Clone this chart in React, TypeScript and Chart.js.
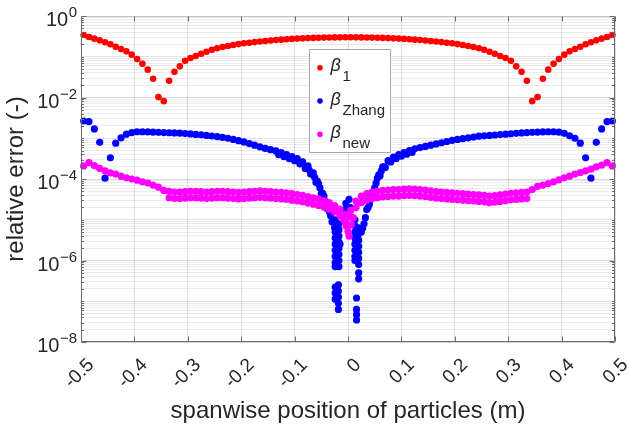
import React, { useEffect, useRef } from 'react';
import { Chart, registerables } from 'chart.js';

Chart.register(...registerables);

// ---------------- DATA ----------------
// particle spanwise positions (m)
const xPos = [
  -0.495, -0.485, -0.475, -0.465, -0.455, -0.445, -0.435, -0.425, -0.415, -0.405,
  -0.395, -0.385, -0.375, -0.365, -0.355, -0.345, -0.335, -0.325, -0.315, -0.305,
  -0.295, -0.285, -0.275, -0.265, -0.255, -0.245, -0.235, -0.225, -0.215, -0.205,
  -0.195, -0.185, -0.175, -0.165, -0.155, -0.145, -0.135, -0.125, -0.115, -0.105,
  -0.095, -0.085, -0.075, -0.065, -0.055, -0.045, -0.035, -0.025, -0.015, -0.005,
  0.005, 0.015, 0.025, 0.035, 0.045, 0.055, 0.065, 0.075, 0.085, 0.095,
  0.105, 0.115, 0.125, 0.135, 0.145, 0.155, 0.165, 0.175, 0.185, 0.195,
  0.205, 0.215, 0.225, 0.235, 0.245, 0.255, 0.265, 0.275, 0.285, 0.295,
  0.305, 0.315, 0.325, 0.335, 0.345, 0.355, 0.365, 0.375, 0.385, 0.395,
  0.405, 0.415, 0.425, 0.435, 0.445, 0.455, 0.465, 0.475, 0.485, 0.495,
];

// relative error, stored as log10 exponents
const beta1Exp = [
  -0.466, -0.515, -0.556, -0.597, -0.646, -0.695, -0.753, -0.81, -0.867, -0.949,
  -1.055, -1.17, -1.317, -1.54, -1.99, -2.09, -1.59, -1.37, -1.235, -1.1,
  -1.03, -0.98, -0.925, -0.876, -0.827, -0.79, -0.76, -0.735, -0.71, -0.69,
  -0.67, -0.655, -0.64, -0.625, -0.612, -0.6, -0.59, -0.58, -0.57, -0.562,
  -0.555, -0.548, -0.542, -0.537, -0.533, -0.53, -0.527, -0.525, -0.524, -0.523,
  -0.523, -0.524, -0.525, -0.527, -0.53, -0.533, -0.537, -0.542, -0.548, -0.555,
  -0.562, -0.57, -0.58, -0.59, -0.6, -0.612, -0.625, -0.64, -0.655, -0.67,
  -0.69, -0.71, -0.735, -0.76, -0.79, -0.827, -0.876, -0.925, -0.98, -1.03,
  -1.1, -1.235, -1.37, -1.59, -2.09, -1.99, -1.54, -1.317, -1.17, -1.055,
  -0.949, -0.867, -0.81, -0.753, -0.695, -0.646, -0.597, -0.556, -0.515, -0.466,
];

const betaZhangExp = [
  -2.577, -2.59, -2.77, -3.1, -3.98, -3.48, -3.12, -2.99, -2.9, -2.86,
  -2.84, -2.84, -2.845, -2.85, -2.855, -2.86, -2.865, -2.87, -2.875, -2.885,
  -2.895, -2.905, -2.915, -2.93, -2.945, -2.96, -2.98, -3.0, -3.03, -3.06,
  -3.09, -3.13, -3.17, -3.21, -3.25, -3.28, -3.31, -3.35, -3.4, -3.45,
  -3.5, -3.58, -3.68, -3.85, -4.12, -4.42, -4.8, -5.2, -5.6, -4.75,
  -4.7, -5.5, -5.3, -4.75, -4.35, -3.98, -3.7, -3.55, -3.46, -3.4,
  -3.35, -3.3, -3.26, -3.23, -3.2, -3.17, -3.14, -3.11, -3.08, -3.05,
  -3.03, -3.01, -2.99, -2.97, -2.95, -2.94, -2.93, -2.92, -2.91, -2.9,
  -2.89, -2.88, -2.87, -2.86, -2.855, -2.85, -2.845, -2.84, -2.84, -2.85,
  -2.88, -2.94, -3.0, -3.12, -3.48, -3.98, -3.1, -2.77, -2.59, -2.577,
];

// dense particles near the centre for beta_Zhang: [x, log10 error]
const betaZhangCenter = [
  [-0.13, -3.4], [-0.12, -3.45], [-0.11, -3.5], [-0.1, -3.55], [-0.09, -3.63],
  [-0.08, -3.74], [-0.07, -3.88], [-0.06, -4.08], [-0.05, -4.36], [-0.04, -4.72], [-0.03, -5.05],
  [-0.0725, -3.78], [-0.0625, -3.96], [-0.0575, -4.05], [-0.0525, -4.22], [-0.0475, -4.35],
  [-0.0425, -4.55], [-0.0375, -4.68], [-0.0325, -4.9], [-0.0275, -5.05],
  [0.03, -5.1], [0.04, -4.62], [0.05, -4.22], [0.06, -3.92], [0.07, -3.72],
  [0.08, -3.58], [0.09, -3.5], [0.1, -3.44], [0.11, -3.39], [0.12, -3.35],
  [0.0275, -5.2], [0.0325, -4.95], [0.0375, -4.7], [0.0425, -4.5], [0.0475, -4.3],
  [0.0525, -4.1], [0.0575, -3.9], [0.0625, -3.8], [0.0675, -3.7],
  [-0.024, -5.0], [-0.024, -5.15], [-0.024, -5.3], [-0.024, -5.45], [-0.024, -5.6],
  [-0.024, -5.75], [-0.024, -5.9], [-0.024, -6.05], [-0.024, -6.15],
  [-0.017, -5.1], [-0.017, -5.25], [-0.017, -5.4], [-0.017, -5.55], [-0.017, -5.7],
  [-0.017, -5.85], [-0.017, -6.0], [-0.017, -6.15],
  [-0.024, -6.65], [-0.024, -6.8], [-0.024, -6.95],
  [-0.018, -6.6], [-0.018, -6.75], [-0.018, -6.9], [-0.018, -7.05], [-0.018, -7.2],
  [0.013, -5.0], [0.013, -5.15], [0.013, -5.3], [0.013, -5.45], [0.013, -5.6],
  [0.013, -5.75], [0.013, -5.9], [0.013, -6.0],
  [0.02, -5.2], [0.02, -5.35], [0.02, -5.5], [0.02, -5.65], [0.02, -5.8],
  [0.02, -5.95], [0.02, -6.1], [0.02, -6.3], [0.02, -6.45],
  [0.016, -6.92], [0.016, -7.2], [0.016, -7.33], [0.016, -7.46],
  [0.002, -4.5], [-0.004, -4.6],
];

// beta_new: outer line + upper row of the central band
const betaNewExp = [
  -3.68, -3.6, -3.67, -3.74, -3.8, -3.85, -3.88, -3.93, -3.97, -4.0,
  -4.03, -4.07, -4.1, -4.15, -4.2, -4.28, -4.3, -4.32, -4.32, -4.31,
  -4.3, -4.3, -4.31, -4.32, -4.31, -4.3, -4.3, -4.31, -4.32, -4.33,
  -4.32, -4.31, -4.3, -4.29, -4.3, -4.31, -4.32, -4.33, -4.34, -4.36,
  -4.38, -4.4, -4.43, -4.46, -4.49, -4.53, -4.58, -4.65, -4.74, -4.87,
  -4.77, -4.54, -4.42, -4.36, -4.32, -4.3, -4.28, -4.27, -4.26, -4.26,
  -4.25, -4.24, -4.25, -4.26, -4.27, -4.29, -4.31, -4.32, -4.33, -4.34,
  -4.35, -4.36, -4.37, -4.38, -4.39, -4.4, -4.42, -4.41, -4.39, -4.37,
  -4.35, -4.34, -4.33, -4.32, -4.26, -4.18, -4.15, -4.11, -4.07, -4.02,
  -3.97, -3.93, -3.88, -3.84, -3.8, -3.76, -3.7, -3.66, -3.6, -3.68,
];

// beta_new: lower row of the central band (x = -0.335 ... 0.335)
const betaNewLowerExp = [
  -4.46, -4.48, -4.48, -4.47, -4.46, -4.46, -4.47, -4.48, -4.47, -4.46,
  -4.46, -4.47, -4.48, -4.49, -4.48, -4.47, -4.46, -4.45, -4.46, -4.47,
  -4.48, -4.49, -4.5, -4.52, -4.54, -4.56, -4.59, -4.62, -4.65, -4.69,
  -4.74, -4.81, -4.9, -5.03,
  -4.93, -4.7, -4.58, -4.52, -4.48, -4.46, -4.44, -4.43, -4.42, -4.42,
  -4.41, -4.4, -4.41, -4.42, -4.43, -4.45, -4.47, -4.48, -4.49, -4.5,
  -4.51, -4.52, -4.53, -4.54, -4.55, -4.56, -4.58, -4.57, -4.55, -4.53,
  -4.51, -4.5, -4.49, -4.48,
];
const betaNewLowerX = xPos.slice(16, 84);

const betaNewCenter = [
  [-0.008, -5.0], [-0.004, -5.15], [0.0, -5.28], [0.002, -5.4], [0.006, -5.12], [0.01, -4.95],
];

const xTickValues = [-0.5, -0.4, -0.3, -0.2, -0.1, 0, 0.1, 0.2, 0.3, 0.4, 0.5];
const xTickLabels = ['-0.5', '-0.4', '-0.3', '-0.2', '-0.1', '0', '0.1', '0.2', '0.3', '0.4', '0.5'];
const yTickExps = [0, -2, -4, -6, -8];

const seriesNames = ['1', 'Zhang', 'new'];
const seriesColors = ['#ff0000', '#0000ff', '#ff00ff'];

const xTitle = 'spanwise position of particles (m)';
const yTitle = 'relative error (-)';

// ---------------- STYLE ----------------
const FONT = '"Liberation Sans", Arial, Helvetica, sans-serif';
const TEXT = '#262626';
const AXIS = '#6b6b6b';

const yGridValues: number[] = [];
for (let e = -8; e <= 0; e++) {
  for (let k = 1; k <= 9; k++) {
    const v = k * Math.pow(10, e);
    if (v <= 1.0000001) yGridValues.push(v);
  }
}

const isDecade = (v: number) => {
  const l = Math.log10(v);
  return Math.abs(l - Math.round(l)) < 1e-6;
};

const decorPlugin = {
  id: 'decor',
  afterDraw(chart: any) {
    const ctx = chart.ctx as CanvasRenderingContext2D;
    const xs = chart.scales.x;
    const ys = chart.scales.y;
    const { left, right, top, bottom } = chart.chartArea;
    const L = Math.round(left) + 0.5;
    const R = Math.round(right) - 0.5;
    const T = Math.round(top) + 0.5;
    const B = Math.round(bottom) - 0.5;
    ctx.save();

    // box
    ctx.lineWidth = 1;
    ctx.strokeStyle = '#c4c4c4';
    ctx.beginPath();
    ctx.moveTo(L, T); ctx.lineTo(R, T);
    ctx.stroke();
    ctx.strokeStyle = AXIS;
    ctx.beginPath();
    ctx.moveTo(L, T); ctx.lineTo(L, B); ctx.lineTo(R, B); ctx.lineTo(R, T);
    ctx.stroke();

    // y ticks (inward)
    ctx.beginPath();
    yGridValues.forEach((v) => {
      const y = Math.round(ys.getPixelForValue(v)) + 0.5;
      const labeled = isDecade(v) && Math.round(Math.log10(v)) % 2 === 0;
      const len = labeled ? 5 : 2.5;
      ctx.moveTo(L, y); ctx.lineTo(L + len, y);
      ctx.moveTo(R, y); ctx.lineTo(R - len, y);
    });
    // x ticks
    xTickValues.forEach((v) => {
      const x = Math.round(xs.getPixelForValue(v)) + 0.5;
      ctx.moveTo(x, B); ctx.lineTo(x, B - 5);
      ctx.moveTo(x, T); ctx.lineTo(x, T + 5);
    });
    ctx.stroke();

    // y tick labels 10^e
    ctx.fillStyle = TEXT;
    yTickExps.forEach((e) => {
      const y = ys.getPixelForValue(Math.pow(10, e));
      const expStr = e === 0 ? '0' : '\u2212' + Math.abs(e);
      ctx.font = `15px ${FONT}`;
      const ew = ctx.measureText(expStr).width;
      ctx.textAlign = 'right';
      ctx.textBaseline = 'alphabetic';
      ctx.fillText(expStr, 77, y + 1);
      ctx.font = `20px ${FONT}`;
      ctx.fillText('10', 77 - ew - 0.5, y + 10);
    });

    // x tick labels, rotated 45 degrees
    ctx.font = `19px ${FONT}`;
    xTickValues.forEach((v, i) => {
      const x = xs.getPixelForValue(v);
      ctx.save();
      ctx.translate(x + 10, 362);
      ctx.rotate(-Math.PI / 4);
      ctx.textAlign = 'right';
      ctx.textBaseline = 'middle';
      ctx.fillText(xTickLabels[i], 0, 0);
      ctx.restore();
    });

    // axis titles
    ctx.font = `24px ${FONT}`;
    ctx.textAlign = 'center';
    ctx.textBaseline = 'alphabetic';
    ctx.fillText(xTitle, (left + right) / 2, 418);
    ctx.save();
    ctx.translate(23, (top + bottom) / 2);
    ctx.rotate(-Math.PI / 2);
    ctx.fillText(yTitle, 0, 0);
    ctx.restore();

    // legend
    ctx.fillStyle = '#ffffff';
    ctx.fillRect(309.5, 49.5, 81, 103);
    ctx.strokeStyle = '#a8a8a8';
    ctx.strokeRect(309.5, 49.5, 81, 103);
    const rows = [67.7, 101, 134.3];
    seriesNames.forEach((name, i) => {
      const ry = rows[i];
      ctx.fillStyle = seriesColors[i];
      ctx.beginPath();
      ctx.arc(320, ry, 2.8, 0, Math.PI * 2);
      ctx.fill();
      ctx.fillStyle = TEXT;
      ctx.textAlign = 'left';
      ctx.textBaseline = 'alphabetic';
      ctx.font = `italic 18px ${FONT}`;
      ctx.fillText('\u03b2', 330.5, ry + 3.5);
      ctx.font = `15px ${FONT}`;
      ctx.fillText(name, 342.5, ry + 13.5);
    });

    ctx.restore();
  },
};

const toPoints = (xsArr: number[], expArr: number[]) =>
  xsArr.map((x, i) => ({ x, y: Math.pow(10, expArr[i]) }));
const pairsToPoints = (pairs: number[][]) => pairs.map(([x, e]) => ({ x, y: Math.pow(10, e) }));

export default function App() {
  const ref = useRef<HTMLCanvasElement | null>(null);

  useEffect(() => {
    if (!ref.current) return;
    const mk = (label: string, data: any[], color: string, order: number, r: number) => ({
      label,
      data,
      backgroundColor: color,
      borderColor: color,
      order,
      pointRadius: r,
      pointHoverRadius: r,
      pointBorderWidth: 0,
      borderWidth: 0,
      showLine: false,
      clip: false,
    });
    const chart = new Chart(ref.current, {
      type: 'scatter',
      data: {
        datasets: [
          mk('new', toPoints(xPos, betaNewExp), seriesColors[2], 0, 3.6),
          mk('new2', toPoints(betaNewLowerX, betaNewLowerExp), seriesColors[2], 1, 3.6),
          mk('new3', pairsToPoints(betaNewCenter), seriesColors[2], 2, 3.6),
          mk('Zhang', toPoints(xPos, betaZhangExp), seriesColors[1], 3, 3.6),
          mk('Zhang2', pairsToPoints(betaZhangCenter), seriesColors[1], 4, 3.6),
          mk('1', toPoints(xPos, beta1Exp), seriesColors[0], 5, 3.3),
        ] as any,
      },
      options: {
        responsive: false,
        animation: false,
        events: [],
        layout: { padding: { top: 16, right: 13, left: 0, bottom: 0 } },
        plugins: {
          legend: { display: false },
          tooltip: { enabled: false },
          title: { display: false },
        },
        scales: {
          x: {
            type: 'linear',
            min: -0.5,
            max: 0.5,
            ticks: { display: false, stepSize: 0.1 },
            grid: { color: 'rgba(0,0,0,0.12)', drawTicks: false, lineWidth: 1 },
            border: { display: false },
            afterFit: (s: any) => { s.height = 86; },
          },
          y: {
            type: 'logarithmic',
            min: 1e-8,
            max: 1,
            ticks: { display: false },
            afterBuildTicks: (s: any) => { s.ticks = yGridValues.map((v) => ({ value: v })); },
            grid: {
              drawTicks: false,
              lineWidth: 1,
              color: (c: any) => {
                const v = c.tick ? c.tick.value : 1;
                if (isDecade(v)) {
                  return Math.round(Math.log10(v)) % 2 === 0 ? 'rgba(0,0,0,0.15)' : 'rgba(0,0,0,0.11)';
                }
                return 'rgba(0,0,0,0.08)';
              },
            },
            border: { display: false },
            afterFit: (s: any) => { s.width = 81; },
          },
        } as any,
      },
      plugins: [decorPlugin],
    });
    return () => chart.destroy();
  }, []);

  return (
    <div style={{ position: 'fixed', left: 0, top: 0, width: 628, height: 428, background: '#fff' }}>
      <canvas ref={ref} width={628} height={428} style={{ display: 'block' }} />
    </div>
  );
}
